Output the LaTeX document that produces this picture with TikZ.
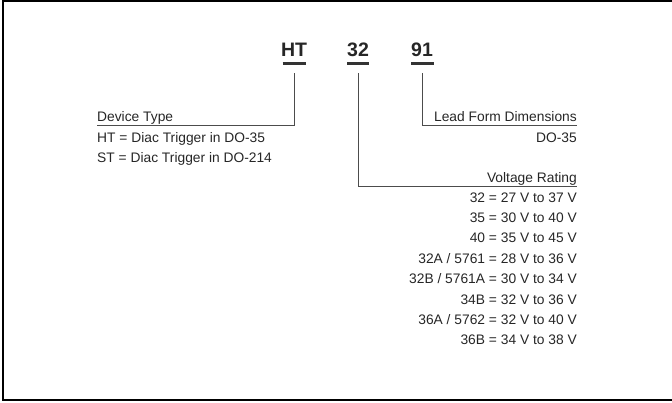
\documentclass[tikz,border=0pt]{standalone}
\usepackage{fontspec}
\setmainfont{Liberation Sans}
\usetikzlibrary{positioning}
\begin{document}
\begin{tikzpicture}[x=1pt, y=-1pt, inner sep=0pt,
  code/.style={font=\bfseries\fontsize{19.5}{23}\selectfont, text=black!85, anchor=base},
  codebar/.style={line width=3pt, draw=black!80},
  lead/.style={line width=1pt, draw=black!70},
  txt/.style={font=\fontsize{13.8}{17}\selectfont, text=black!85},
  head/.style={txt, anchor=base west},
  item/.style={txt, anchor=base east}]
\useasboundingbox (0,0) rectangle (672,402);
\draw[line width=2pt] (673,1) -- (3,1) -- (3,400) -- (673,400);
% part number
\node[code] (ht) at (294,56) {HT};
\node[code] (v) at (358,56) {32};
\node[code] (lf) at (422,56) {91};
\draw[codebar] (282.5,63) -- (305.5,63);
\draw[codebar] (347,63) -- (369,63);
\draw[codebar] (411,63) -- (434,63);
% device type
\node[head] (dev) at (97,121) {Device Type};
\node[head] (dev1) at (97,142) {HT = Diac Trigger in DO-35};
\node[head] (dev2) at (97,162) {ST = Diac Trigger in DO-214};
\draw[lead] (ht.south) ++(0,17) |- ([yshift=-4pt]dev.base west);
% lead form
\node[item] (lfd) at (577,121) {Lead Form Dimensions};
\node[item] (lfd1) at (577,142) {DO-35};
\draw[lead] (lf.south) ++(0,17) |- ([yshift=-4pt]lfd.base east);
% voltage rating
\node[item] (vr) at (577,182) {Voltage Rating};
\draw[lead] (v.south) ++(0,17) |- ([yshift=-4pt]vr.base east);
\foreach \t [count=\i] in {{32 = 27 V to 37 V}, {35 = 30 V to 40 V}, {40 = 35 V to 45 V},
    {32A / 5761 = 28 V to 36 V}, {32B / 5761A = 30 V to 34 V}, {34B = 32 V to 36 V},
    {36A / 5762 = 32 V to 40 V}, {36B = 34 V to 38 V}}
  \node[item] (vr\i) at (577,181.6+20.4*\i) {\t};
\end{tikzpicture}
\end{document}
